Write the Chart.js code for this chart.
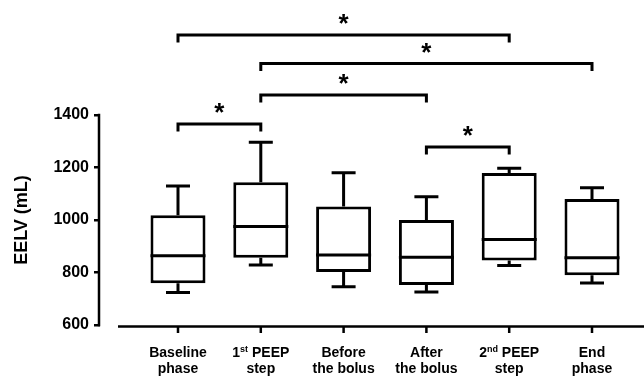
<!DOCTYPE html>
<html><head><meta charset="utf-8">
<script src="https://cdn.jsdelivr.net/npm/chart.js@4.4.1/dist/chart.umd.min.js"></script>
<style>html,body{margin:0;padding:0;background:#fff}#wrap{width:644px;height:376px;position:relative}</style>
</head><body><div id="wrap"><canvas id="c"></canvas></div>
<script>
// ---- data ----
const categories = [["Baseline", "phase"], ["1^st PEEP", "step"], ["Before", "the bolus"], ["After", "the bolus"], ["2^nd PEEP", "step"], ["End", "phase"]];
const whiskerMin   = [724, 829, 746, 726, 827, 760];
const q1Values     = [759, 856, 802, 752, 846, 790];
const medianValues = [864, 975, 867, 858, 926, 856];
const q3Values     = [1018, 1144, 1051, 1000, 1179, 1080];
const whiskerMax   = [1130, 1296, 1180, 1089, 1197, 1123];
const yTickValues  = [600, 800, 1000, 1200, 1400];
const yTitle = "EELV (mL)";
const bracketFrom  = [0, 1, 1, 0, 3];
const bracketTo    = [4, 5, 3, 1, 4];
const bracketLevel = [1705, 1596, 1476, 1366, 1278];
const bracketMark  = ["*", "*", "*", "*", "*"];

const FONT = '"Liberation Sans", Arial, Helvetica, sans-serif';

const boxPlugin = {
  id: 'boxExtras',
  afterDatasetsDraw(chart) {
    const ctx = chart.ctx, xs = chart.scales.x, ys = chart.scales.y, ca = chart.chartArea;
    ctx.save();
    ctx.strokeStyle = '#000'; ctx.fillStyle = '#000';
    ctx.lineCap = 'butt'; ctx.lineJoin = 'miter';
    const boxW = 55, capW = 24;
    categories.forEach((c, i) => {
      const x = xs.getPixelForValue(i + 1);
      ctx.lineWidth = 3;
      ctx.beginPath();
      ctx.moveTo(x, ys.getPixelForValue(q3Values[i])); ctx.lineTo(x, ys.getPixelForValue(whiskerMax[i]));
      ctx.moveTo(x, ys.getPixelForValue(q1Values[i])); ctx.lineTo(x, ys.getPixelForValue(whiskerMin[i]));
      ctx.moveTo(x - capW / 2, ys.getPixelForValue(whiskerMax[i])); ctx.lineTo(x + capW / 2, ys.getPixelForValue(whiskerMax[i]));
      ctx.moveTo(x - capW / 2, ys.getPixelForValue(whiskerMin[i])); ctx.lineTo(x + capW / 2, ys.getPixelForValue(whiskerMin[i]));
      ctx.moveTo(x - boxW / 2, ys.getPixelForValue(medianValues[i])); ctx.lineTo(x + boxW / 2, ys.getPixelForValue(medianValues[i]));
      ctx.stroke();
    });
    const p600 = ys.getPixelForValue(yTickValues[0]);
    const p1400 = ys.getPixelForValue(yTickValues[yTickValues.length - 1]);
    ctx.lineWidth = 2.5;
    ctx.beginPath();
    ctx.moveTo(ca.left - 1, p1400 - 1.25); ctx.lineTo(ca.left - 1, p600 + 1.25);
    const axY = p600 + 1.5;
    ctx.moveTo(ca.left + 18, axY); ctx.lineTo(ca.right, axY);
    categories.forEach((c, i) => {
      const x = xs.getPixelForValue(i + 1);
      ctx.moveTo(x, axY); ctx.lineTo(x, axY + 6.5);
    });
    ctx.stroke();
    const mainF = 'bold 14px ' + FONT, supF = 'bold 9px ' + FONT;
    ctx.textBaseline = 'alphabetic'; ctx.textAlign = 'left';
    categories.forEach((lines, i) => {
      const cx = xs.getPixelForValue(i + 1);
      lines.forEach((line, li) => {
        const base = axY + 30 + li * 16;
        const segs = [];
        line.split(/(\^\w+)/).forEach(s => { if (!s) return; if (s[0] === '^') segs.push({t: s.slice(1), sup: true}); else segs.push({t: s, sup: false}); });
        let total = 0;
        segs.forEach(s => { ctx.font = s.sup ? supF : mainF; s.w = ctx.measureText(s.t).width; total += s.w; });
        let x = cx - total / 2;
        segs.forEach(s => { ctx.font = s.sup ? supF : mainF; ctx.fillText(s.t, x, s.sup ? base - 5 : base); x += s.w; });
      });
    });
    ctx.save();
    ctx.translate(22, (p600 + p1400) / 2);
    ctx.rotate(-Math.PI / 2);
    ctx.font = 'bold 18px ' + FONT;
    ctx.textAlign = 'center'; ctx.textBaseline = 'middle';
    ctx.fillText(yTitle, 0, 0);
    ctx.restore();
    ctx.lineWidth = 3;
    bracketLevel.forEach((lv, k) => {
      const x1 = xs.getPixelForValue(bracketFrom[k] + 1), x2 = xs.getPixelForValue(bracketTo[k] + 1);
      const y = ys.getPixelForValue(lv);
      ctx.beginPath();
      ctx.moveTo(x1, y + 7.5); ctx.lineTo(x1, y); ctx.lineTo(x2, y); ctx.lineTo(x2, y + 7.5);
      ctx.stroke();
      ctx.font = 'bold 26px ' + FONT;
      ctx.textAlign = 'center'; ctx.textBaseline = 'alphabetic';
      const m = ctx.measureText(bracketMark[k]);
      const cy = y - 16;
      ctx.fillText(bracketMark[k], (x1 + x2) / 2, cy + (m.actualBoundingBoxAscent - m.actualBoundingBoxDescent) / 2);
    });
    ctx.restore();
  }
};

new Chart(document.getElementById('c'), {
  type: 'bar',
  data: {
    datasets: [{
      label: 'EELV',
      data: categories.map((c, i) => ({x: i + 1, y: [q1Values[i], q3Values[i]]})),
      backgroundColor: '#fff',
      borderColor: '#000',
      borderWidth: 3,
      borderSkipped: false,
      barThickness: 55,
      inflateAmount: 0
    }]
  },
  options: {
    responsive: true,
    maintainAspectRatio: false,
    animation: false,
    layout: {padding: {top: 10, bottom: 51, left: 0, right: 0}},
    plugins: {legend: {display: false}, tooltip: {enabled: false}, title: {display: false}},
    scales: {
      x: {type: 'linear', min: 0.058, max: 6.628, offset: false, display: false},
      y: {
        type: 'linear', min: 600, max: 1800,
        afterBuildTicks: s => { s.ticks = yTickValues.map(v => ({value: v})); },
        afterFit: s => { s.width = 100; s.paddingTop = 0; s.paddingBottom = 0; },
        border: {display: false},
        grid: {drawOnChartArea: false, drawTicks: true, tickLength: 6, color: '#000', lineWidth: 2.5},
        ticks: {color: '#000', font: {family: FONT, size: 16, weight: 'bold'}, padding: 5, callback: v => String(v)}
      }
    }
  },
  plugins: [boxPlugin]
});
</script>
</body></html>
